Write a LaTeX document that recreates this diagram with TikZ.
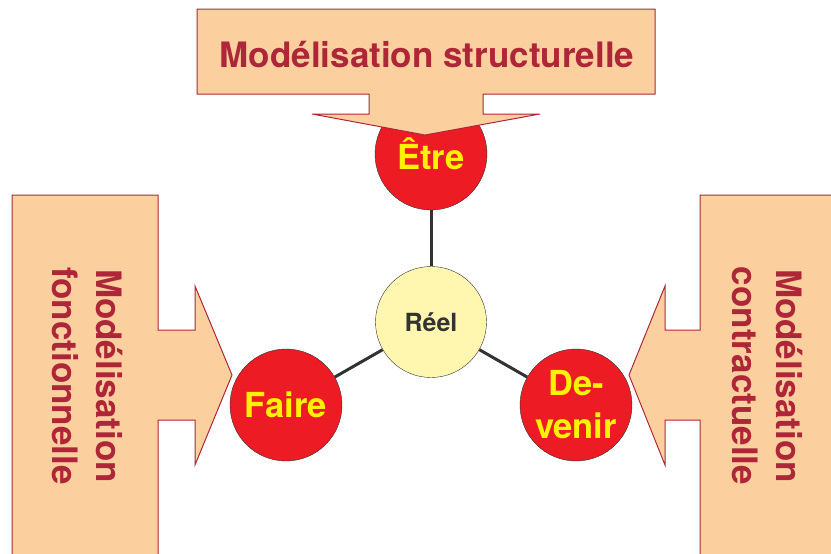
\documentclass[tikz,border=0pt]{standalone}
\usepackage{fontspec}
\setmainfont{TeX Gyre Heros}
\definecolor{peach}{HTML}{FCCF9F}
\definecolor{wine}{HTML}{AE2739}
\definecolor{bubblered}{HTML}{ED1C24}
\definecolor{lemon}{HTML}{FFF200}
\definecolor{cream}{HTML}{FFF6B0}
\definecolor{charcoal}{HTML}{333333}

\begin{document}
\begin{tikzpicture}[x=1pt, y=-1pt,
		pole/.style={circle, draw=charcoal, fill=bubblered, text=lemon, minimum size=112pt, inner sep=0pt, align=center, font=\fontsize{34.5}{43}\selectfont\bfseries},
		core/.style={circle, draw=charcoal, fill=cream, text=charcoal, minimum size=111pt, inner sep=0pt, font=\fontsize{25}{30}\selectfont\bfseries},
		link/.style={line width=3pt, color=charcoal},
		banner/.style={draw=wine, fill=peach, line width=1pt},
		lbl/.style={text=wine, font=\fontsize{35}{44}\selectfont\bfseries, align=center}
	]
	\clip (0,0) rectangle (831,554);

	\node[core] (reel) at (431,322) {Réel};
	\node[pole] (etre) at (431,154) {Être};
	\node[pole] (faire) at (286,405) {Faire};
	\node[pole] (devenir) at (576,405) {De-\\venir};

	\draw[link] (reel) -- (etre);
	\draw[link] (reel) -- (faire);
	\draw[link] (reel) -- (devenir);

	% the three block arrows
	\draw[banner] (197,9) -- (655,9) -- (655,94) -- (483,94) -- (483,114) -- (540,114) -- (425,135)
		-- (312,114) -- (369,114) -- (369,94) -- (197,94) -- cycle;
	\draw[banner] (12,195) -- (158,195) -- (158,330) -- (195,330) -- (195,286) -- (232,375)
		-- (195,465) -- (195,420) -- (158,420) -- (158,570) -- (12,570) -- cycle;
	\draw[banner] (845,195) -- (700,195) -- (700,330) -- (665,330) -- (665,286) -- (629,375)
		-- (665,465) -- (665,420) -- (700,420) -- (700,570) -- (845,570) -- cycle;

	\node[lbl] (structurelle) at (427,54) {Modélisation structurelle};
	\node[lbl, rotate=-90] (fonctionnelle) at (88,376) {Modélisation\\fonctionnelle};
	\node[lbl, rotate=-90] (contractuelle) at (767,376) {Modélisation\\contractuelle};
\end{tikzpicture}
\end{document}
